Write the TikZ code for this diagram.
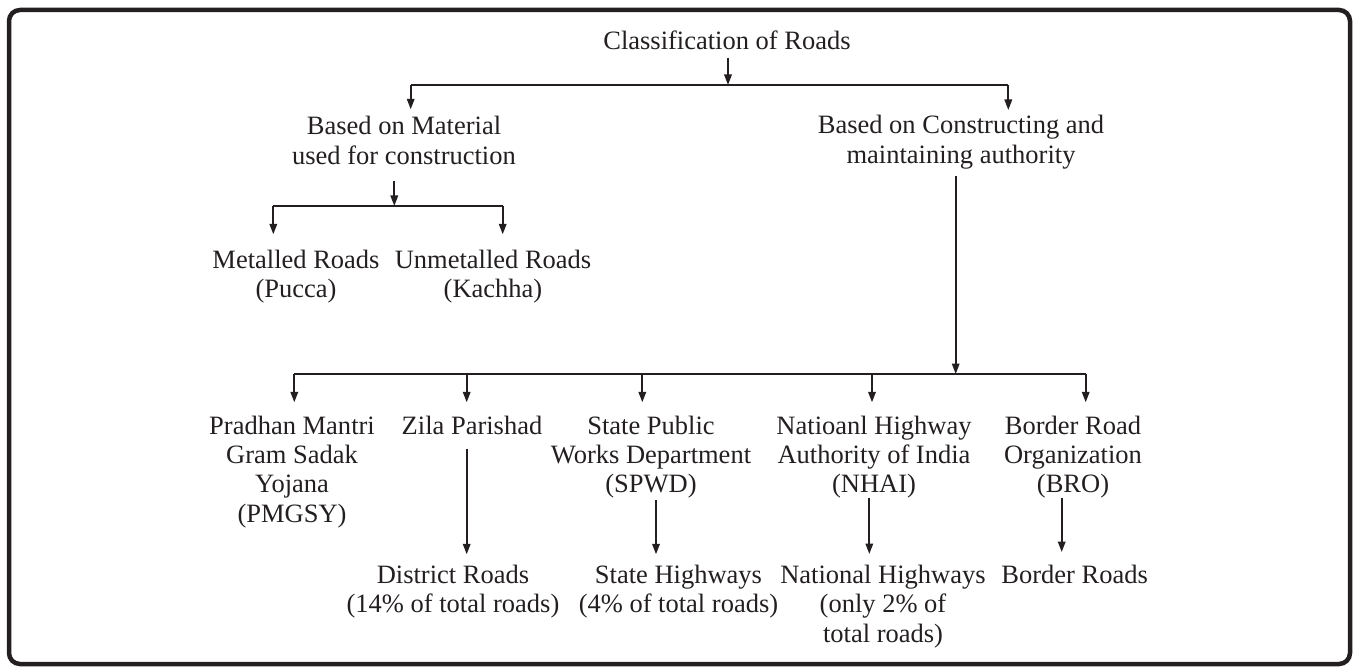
\documentclass[tikz,border=0pt]{standalone}
\usepackage{fontspec}
\setmainfont{Liberation Serif}
\usetikzlibrary{arrows.meta}
\definecolor{ink}{HTML}{231F20}
\begin{document}
\begin{tikzpicture}[x=1pt,y=-1pt,
  txt/.style={font=\fontsize{26.5}{29.4}\selectfont, align=center, inner sep=0pt, anchor=base, text=ink},
  arr/.style={draw=ink, line width=1.8pt, -{Triangle[length=10.5pt,width=7.5pt]}},
  ln/.style={draw=ink, line width=1.8pt}]
\useasboundingbox (0,0) rectangle (1354,668);
\draw[ink, line width=4.5pt, rounded corners=11pt] (9,10) rectangle (1350,664);

% nodes (base anchor = baseline of the last line)
\node[txt] (root)  at (727,49.3)  {Classification of Roads};
\node[txt] (mat)   at (404,164.4) {Based on Material\\used for construction};
\node[txt] (auth)  at (961,163.4) {Based on Constructing and\\maintaining authority};
\node[txt] (met)   at (296,297.5) {Metalled Roads\\(Pucca)};
\node[txt] (unmet) at (493,297.5) {Unmetalled Roads\\(Kachha)};
\node[txt] (pm)    at (292,522.2) {Pradhan Mantri\\Gram Sadak\\Yojana\\(PMGSY)};
\node[txt] (zila)  at (472,434)   {Zila Parishad};
\node[txt] (spwd)  at (651,492.8) {State Public\\Works Department\\(SPWD)};
\node[txt] (nhai)  at (874,492.8) {Natioanl Highway\\Authority of India\\(NHAI)};
\node[txt] (bro)   at (1073,492.8){Border Road\\Organization\\(BRO)};
\node[txt] (dist)  at (453,612.7)   {District Roads\\(14\% of total roads)};
\node[txt] (sh)    at (678.5,612.7) {State Highways\\(4\% of total roads)};
\node[txt] (nh)    at (883,642.1)   {National Highways\\(only 2\% of\\total roads)};
\node[txt] (br)    at (1074.7,583.3){Border Roads};

% junction coordinates
\coordinate (j0) at (728,85);
\coordinate (jm) at (410.7,85);
\coordinate (ja) at (1008.3,85);
\coordinate (k0) at (394.3,206);
\coordinate (km) at (273.3,206);
\coordinate (ku) at (502.7,206);
\coordinate (b0) at (955.7,374);
\coordinate (b1) at (294.3,374);
\coordinate (b2) at (466.7,374);
\coordinate (b3) at (642.3,374);
\coordinate (b4) at (872,374);
\coordinate (b5) at (1085.7,374);
\coordinate (xs) at (656,0);
\coordinate (xn) at (869.3,0);
\coordinate (xb) at (1061.7,0);

% level 1
\draw[arr] ([yshift=-8.4pt]root.base -| j0) -- (j0);
\draw[ln] (jm) -- (ja);
\draw[arr] (jm) -- ++(0,24.3);
\draw[arr] (ja) -- ++(0,25);

% material branch
\draw[arr] ([yshift=-16.3pt]mat.base -| k0) -- (k0);
\draw[ln] (km) -- (ku);
\draw[arr] (km) -- ++(0,28.3);
\draw[arr] (ku) -- ++(0,28.3);

% authority branch
\draw[arr] ([yshift=-12.6pt]auth.base -| b0) -- (b0);
\draw[ln] (b1) -- (b5);
\foreach \c in {b1,b2,b3,b4,b5} \draw[arr] (\c) -- ++(0,28.3);

% level 3
\draw[arr] ([yshift=-15.3pt]zila.base -| b2) -- ([yshift=58.4pt]dist.base -| b2);
\draw[arr] ([yshift=-7.2pt]spwd.base -| xs) -- ([yshift=58.4pt]sh.base -| xs);
\draw[arr] ([yshift=-5.5pt]nhai.base -| xn) -- ([yshift=88.1pt]nh.base -| xn);
\draw[arr] ([yshift=-5.5pt]bro.base -| xb) -- ([yshift=31.3pt]br.base -| xb);
\end{tikzpicture}
\end{document}
